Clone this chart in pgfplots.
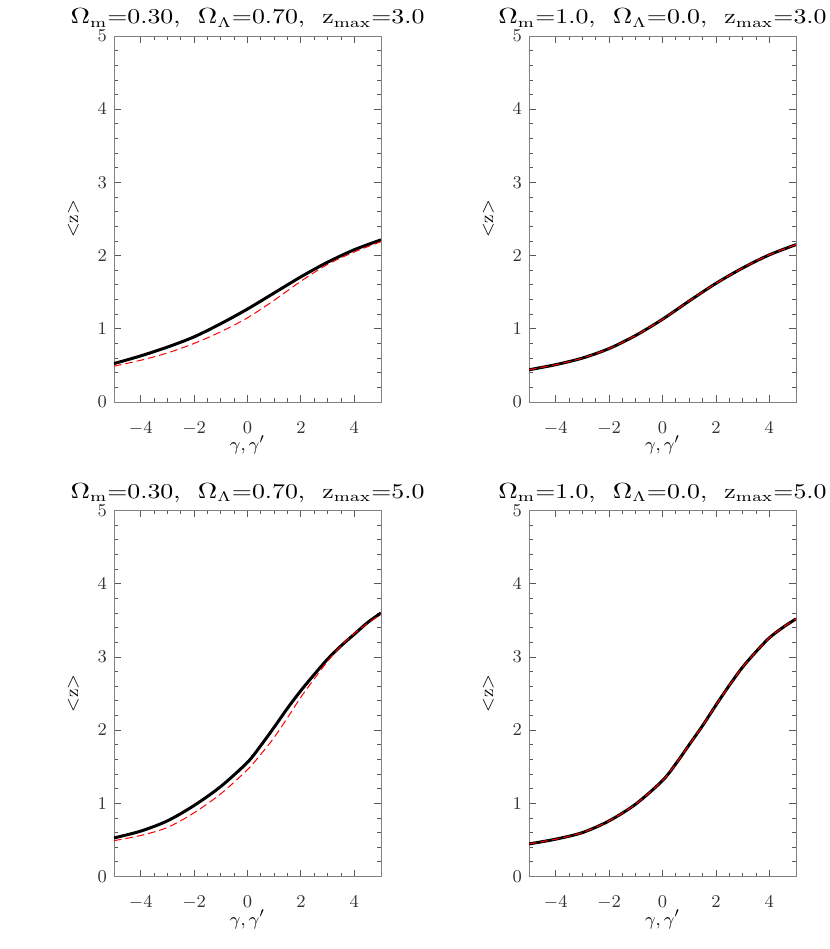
\documentclass[border=0pt]{standalone}
\usepackage{graphicx}
\usepackage{pgfplots}
\pgfplotsset{compat=1.18}
\usepackage{pgfplotstable}

% x, black curve (b), red dashed curve (r)
\pgfplotstableread{
x    b     r
-5   0.525 0.49
-4   0.63  0.57
-3   0.75  0.67
-2   0.89  0.80
-1   1.07  0.96
0    1.27  1.15
1    1.49  1.39
2    1.71  1.65
3    1.91  1.88
4    2.08  2.05
5    2.215 2.19
}\tlA
\pgfplotstableread{
x    b     r
-5   0.44  0.44
-4   0.51  0.51
-3   0.60  0.60
-2   0.73  0.73
-1   0.91  0.91
0    1.13  1.13
1    1.38  1.38
2    1.62  1.62
3    1.83  1.83
4    2.01  2.01
5    2.15  2.15
}\trA
\pgfplotstableread{
x    b     r
-5   0.527 0.49
-4   0.62  0.56
-3   0.76  0.67
-2   0.97  0.87
-1   1.23  1.13
0    1.56  1.46
0.5  1.79  1.67
1    2.04  1.90
1.5  2.30  2.17
2    2.54  2.45
2.5  2.76  2.70
3    2.97  2.94
3.5  3.15  3.15
4    3.31  3.32
4.5  3.47  3.46
5    3.60  3.58
}\blA
\pgfplotstableread{
x    b     r
-5   0.445 0.445
-4   0.51  0.51
-3   0.60  0.60
-2   0.76  0.76
-1   0.99  0.99
0    1.31  1.31
0.5  1.54  1.54
1    1.80  1.80
1.5  2.06  2.06
2    2.34  2.34
2.5  2.61  2.61
3    2.86  2.86
3.5  3.07  3.07
4    3.26  3.26
4.5  3.40  3.40
5    3.52  3.52
}\brA

% wide, light lettering of the titles
\newcommand{\ttl}[1]{\scalebox{1.23}[1]{#1}}

\pgfplotsset{
  panel/.style={
    scale only axis, width=133.5pt, height=183pt,
    anchor=south west,
    xmin=-5, xmax=5, ymin=0, ymax=5,
    xtick={-4,-2,...,4}, ytick={0,...,5},
    minor x tick num=3, minor y tick num=4,
    axis line style={gray}, tick style={black!65, line width=0.4pt},
    major tick length=3.3pt, minor tick length=1.8pt,
    ticklabel style={font=\fontsize{9}{11}\selectfont, text=black!80},
    xticklabel style={yshift=-6.3pt},
    xlabel={$\gamma,\gamma'$}, ylabel={\textless z\textgreater},
    label style={font=\fontsize{9.5}{11}\selectfont},
    xlabel style={at={(axis description cs:0.5,0)}, anchor=base, yshift=-24.5pt},
    ylabel style={at={(axis description cs:-0.152,0.5)}, anchor=center},
    title style={at={(axis description cs:0.5,1)}, anchor=base, yshift=0pt,
      font=\fontsize{10.5}{12}\selectfont},
  },
  bk/.style={black, line width=1.5pt, smooth},
  rd/.style={red, line width=0.5pt, dash pattern=on 3.8pt off 2pt, smooth},
}

\begin{document}
\begin{tikzpicture}
\useasboundingbox (0,0) rectangle (415pt,474.5pt);

\begin{axis}[panel, at={(57pt,273.5pt)},
  title={\ttl{$\Omega_{\rm m}$=0.30,\ \ $\Omega_\Lambda$=0.70,\ \ z$_{\rm max}$=3.0}}]
\addplot[bk] table[x=x, y=b] {\tlA};
\addplot[rd] table[x=x, y=r] {\tlA};
\end{axis}

\begin{axis}[panel, at={(264.5pt,273.5pt)},
  title={\ttl{$\Omega_{\rm m}$=1.0,\ \ $\Omega_\Lambda$=0.0,\ \ z$_{\rm max}$=3.0}}]
\addplot[bk] table[x=x, y=b] {\trA};
\addplot[rd] table[x=x, y=r] {\trA};
\end{axis}

\begin{axis}[panel, at={(57pt,36.25pt)},
  title={\ttl{$\Omega_{\rm m}$=0.30,\ \ $\Omega_\Lambda$=0.70,\ \ z$_{\rm max}$=5.0}}]
\addplot[bk] table[x=x, y=b] {\blA};
\addplot[rd] table[x=x, y=r] {\blA};
\end{axis}

\begin{axis}[panel, at={(264.5pt,36.25pt)},
  title={\ttl{$\Omega_{\rm m}$=1.0,\ \ $\Omega_\Lambda$=0.0,\ \ z$_{\rm max}$=5.0}}]
\addplot[bk] table[x=x, y=b] {\brA};
\addplot[rd] table[x=x, y=r] {\brA};
\end{axis}
\end{tikzpicture}
\end{document}
